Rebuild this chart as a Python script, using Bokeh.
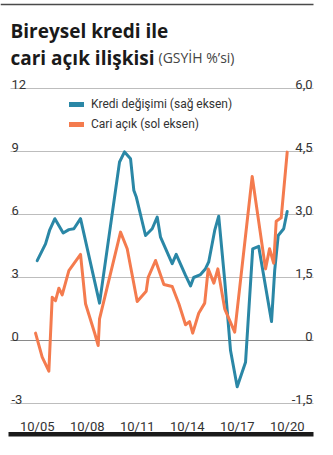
from bokeh.plotting import figure
from bokeh.models import Range1d, Legend, LegendItem
from bokeh.core.properties import value
from bokeh.embed import file_html
from bokeh.resources import INLINE

# ---------------- data ----------------
credit_years = [2005.75, 2006.25, 2006.49, 2006.81, 2007.31, 2007.65, 2007.95, 2008.35,
                2009.49, 2010.69, 2010.99, 2011.35, 2011.55, 2011.70, 2012.25, 2012.65,
                2012.95, 2013.15, 2013.85, 2014.09, 2014.65, 2014.95, 2015.14, 2015.55,
                2015.85, 2016.04, 2016.40, 2016.64, 2017.00, 2017.35, 2017.75, 2018.25,
                2018.68, 2019.04, 2019.81, 2020.00, 2020.21, 2020.54, 2020.75]
credit_vals = [1.90, 2.30, 2.62, 2.90, 2.56, 2.64, 2.66, 2.90,
               0.89, 4.25, 4.49, 4.33, 3.57, 3.41, 2.50, 2.66,
               2.94, 2.46, 1.83, 2.05, 1.55, 1.30, 1.50, 1.57,
               1.71, 1.87, 2.62, 2.96, 1.43, -0.24, -1.10, -0.52,
               2.18, 2.24, 0.45, 1.67, 2.50, 2.66, 3.07]

ca_years = [2005.65, 2006.05, 2006.45, 2006.65, 2006.85, 2007.05, 2007.25, 2007.65,
            2008.35, 2008.65, 2009.21, 2009.41, 2009.49, 2010.75, 2011.15, 2011.75,
            2012.29, 2012.41, 2012.85, 2013.35, 2013.85, 2014.25, 2014.65, 2014.89,
            2015.08, 2015.44, 2015.80, 2016.01, 2016.35, 2016.59, 2017.00, 2017.60,
            2018.65, 2019.45, 2019.69, 2019.94, 2020.09, 2020.39, 2020.75]
ca_vals = [0.35, -0.79, -1.46, 2.06, 1.90, 2.49, 2.17, 3.33,
           4.10, 1.75, 0.32, -0.24, 1.03, 5.16, 4.37, 1.86,
           2.35, 3.01, 3.81, 2.67, 2.57, 1.75, 0.75, 0.90,
           0.35, 1.30, 1.78, 3.41, 2.73, 3.41, 1.51, 0.40,
           7.81, 3.41, 4.37, 3.68, 5.68, 5.84, 8.97]

left_ticks = [-3, 0, 3, 6, 9, 12]
left_labels = ["-3", "0", "3", "6", "9", "12"]
right_ticks = [-1.5, 0, 1.5, 3.0, 4.5, 6.0]
right_labels = ["-1,5", "0", "1,5", "3,0", "4,5", "6,0"]
x_ticks = [2005.75, 2008.75, 2011.75, 2014.75, 2017.75, 2020.75]
x_labels = ["10/05", "10/08", "10/11", "10/14", "10/17", "10/20"]

title1 = "Bireysel kredi ile"
title2 = "cari açık ilişkisi"
title2b = "(GSYİH %’si)"
legend_labels = ["Kredi değişimi (sağ eksen)", "Cari açık (sol eksen)"]

BLUE = "#2a87a6"
ORANGE = "#f47b4e"
FONT = "Roboto"
TITLE_FONT = "Open Sans"

# ---------------- geometry ----------------
W, H = 333, 455
X0, X1 = 2003.548, 2023.528      # canvas spans these years
Y0, Y1 = -5.476, 16.190          # left-axis values at canvas bottom / top


def xd(px):
    return X0 + px * (X1 - X0) / W


def yd(py):
    return Y1 - py * (Y1 - Y0) / H


p = figure(width=W, height=H, output_backend="svg", toolbar_location=None,
           title_location=None,
           x_axis_type=None, y_axis_type=None,
           x_range=Range1d(X0, X1), y_range=Range1d(Y0, Y1),
           min_border=0)
p.outline_line_color = None
p.background_fill_color = "white"
p.border_fill_color = "white"
p.extra_y_ranges = {"right": Range1d(Y0 / 2, Y1 / 2)}

# grid lines
grid_colors = ["#bdbdbd" if t != 0 else "#8a8a8a" for t in left_ticks]
p.segment(x0=[xd(10)] * len(left_ticks), x1=[xd(313)] * len(left_ticks),
          y0=left_ticks, y1=left_ticks, line_color=grid_colors, line_width=1.2)

# tick labels
p.text(x=[xd(11)] * len(left_ticks), y=left_ticks, text=left_labels,
       text_font=value(FONT), text_font_size="13px", text_color="#333333",
       text_align="left", text_baseline="alphabetic", y_offset=-4)
p.text(x=[xd(312)] * len(right_ticks), y=right_ticks, text=right_labels,
       y_range_name="right",
       text_font=value(FONT), text_font_size="13px", text_color="#333333",
       text_align="right", text_baseline="alphabetic", y_offset=-4)
p.text(x=x_ticks, y=[yd(426)] * len(x_ticks), text=x_labels,
       text_font=value(FONT), text_font_size="13px", text_color="#333333",
       text_align="center", text_baseline="alphabetic")

# data lines
p.line(credit_years, credit_vals, y_range_name="right", line_color=BLUE,
       line_width=3, line_join="round", line_cap="round")
p.line(ca_years, ca_vals, line_color=ORANGE,
       line_width=3, line_join="round", line_cap="round")

# title
p.text(x=[xd(10)], y=[yd(30)], text=[title1], text_font=value(TITLE_FONT),
       text_font_size="19px", text_font_style="bold", text_color="#1a1a1a",
       text_baseline="alphabetic")
p.text(x=[xd(10)], y=[yd(57)], text=[title2], text_font=value(TITLE_FONT),
       text_font_size="19px", text_font_style="bold", text_color="#1a1a1a",
       text_baseline="alphabetic")
p.text(x=[xd(158)], y=[yd(57)], text=[title2b], text_font=value(TITLE_FONT),
       text_font_size="14px", text_color="#444444", text_baseline="alphabetic")

# top rule and bottom bar
p.segment(x0=[xd(0)], x1=[xd(313)], y0=[yd(4)], y1=[yd(4)],
          line_color="#4a4a4a", line_width=1.6)
p.quad(left=[xd(8)], right=[xd(313)], top=[yd(431.5)], bottom=[yd(436)],
       fill_color="#1a1a1a", line_color=None)

# legend (proxy renderers lying outside the visible range)
lb = p.line(x=[X0 - 5, X0 - 4], y=[0, 0], line_color=BLUE, line_width=5, line_cap="round")
lo = p.line(x=[X0 - 5, X0 - 4], y=[0, 0], line_color=ORANGE, line_width=5, line_cap="round")
legend = Legend(items=[LegendItem(label=legend_labels[0], renderers=[lb]),
                       LegendItem(label=legend_labels[1], renderers=[lo])],
                location=(69, H - 134), orientation="vertical",
                glyph_width=15, glyph_height=20, label_height=20, spacing=0,
                padding=0, margin=0, label_standoff=7,
                background_fill_alpha=0, border_line_color=None,
                label_text_font=FONT, label_text_font_size="12px",
                label_text_color="#333333")
p.add_layout(legend, "center")

open("out.html", "w").write(file_html(p, INLINE))
